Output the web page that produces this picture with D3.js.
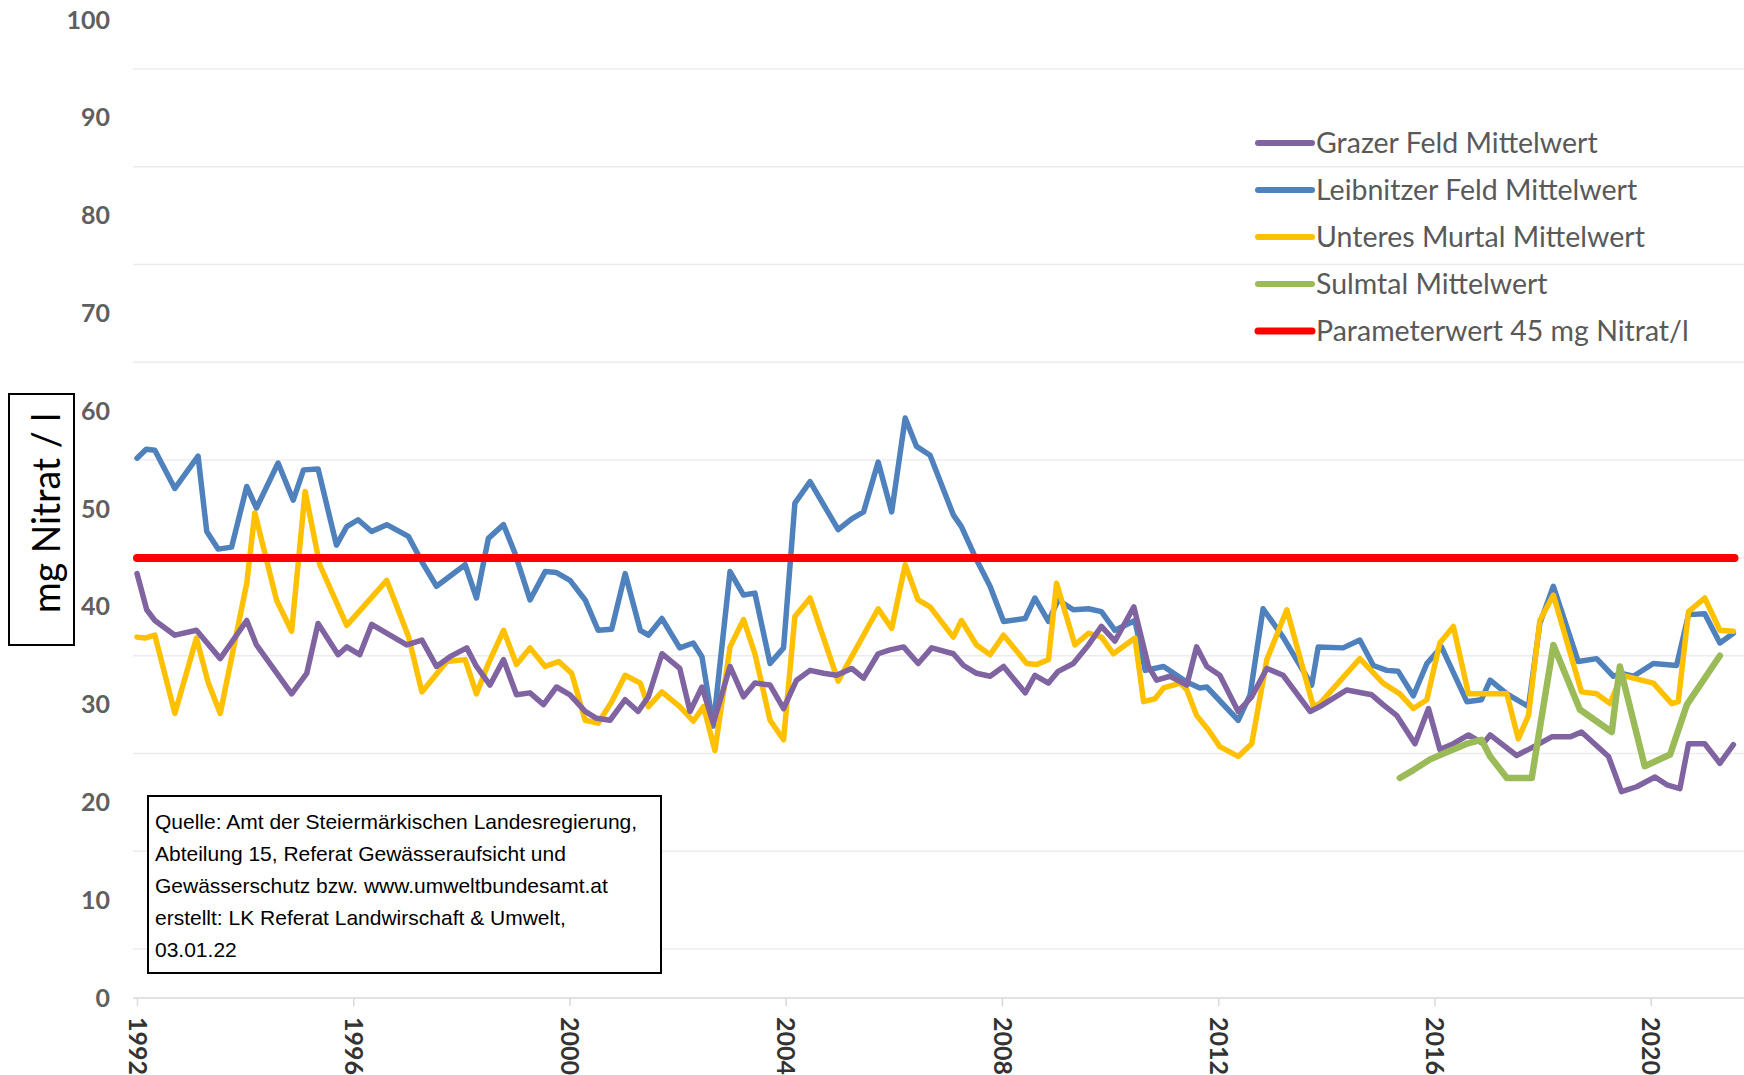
<!DOCTYPE html>
<html>
<head>
<meta charset="utf-8">
<script src="https://cdn.jsdelivr.net/npm/d3@7"></script>
<style>
  body { margin: 0; background: #fff; }
  svg { display: block; }
</style>
</head>
<body>
<div id="chart"></div>
<script>
// Nitrat-Mittelwerte, values (year, mg/l)
var grazerYears = [1992.00,1992.18,1992.33,1992.70,1993.10,1993.54,1994.03,1994.21,1994.86,1995.14,1995.35,1995.72,1995.88,1996.12,1996.34,1996.99,1997.27,1997.54,1997.79,1998.10,
  1998.28,1998.53,1998.78,1999.02,1999.27,1999.52,1999.76,2000.01,2000.29,2000.50,2000.75,2001.03,2001.27,2001.46,2001.71,2002.04,2002.23,2002.45,2002.66,2002.97,2003.22,2003.43,2003.71,2003.96,
  2004.20,2004.45,2004.70,2004.94,2005.22,2005.44,2005.71,2005.93,2006.18,2006.45,2006.70,2007.10,2007.29,2007.53,2007.78,2008.03,2008.43,2008.61,2008.86,2009.04,2009.32,2009.60,2009.84,2010.09,
  2010.44,2010.71,2010.86,2011.11,2011.42,2011.60,2011.79,2012.03,2012.37,2012.62,2012.90,2013.20,2013.70,2013.88,2014.38,2014.84,2015.05,2015.30,
  2015.64,2015.89,2016.10,2016.35,2016.63,2016.90,2017.03,2017.52,2017.77,2018.17,2018.51,2018.72,2019.22,2019.46,2019.74,2020.08,2020.30,2020.54,2020.70,2021.00,2021.28,2021.53];
var grazerValues = [43.4,39.7,38.6,37.1,37.6,34.7,38.6,36.1,31.1,33.2,38.3,35.1,35.9,35.1,38.2,36.1,36.6,33.9,34.9,35.8,
  33.9,32.0,34.6,31.0,31.2,30.0,31.8,31.0,29.3,28.6,28.4,30.5,29.3,30.8,35.2,33.7,29.3,31.8,28.1,33.9,30.8,32.2,32.0,29.6,
  32.5,33.5,33.2,33.0,33.7,32.7,35.2,35.6,35.9,34.2,35.8,35.2,34.0,33.2,32.9,33.9,31.2,33.0,32.2,33.4,34.2,36.1,38.0,36.5,
  40.0,33.9,32.5,32.9,32.0,35.9,33.9,33.0,29.3,30.8,33.7,33.0,29.3,29.8,31.5,31.0,30.0,28.9,
  26.0,29.6,25.4,26.0,26.9,26.0,26.9,24.8,25.5,26.7,26.7,27.2,24.7,21.1,21.6,22.6,21.8,21.4,26.0,26.0,24.0,25.9];

var leibnitzYears = [1992.00,1992.17,1992.33,1992.70,1993.13,1993.29,1993.50,1993.75,1994.03,1994.21,1994.61,1994.89,1995.08,1995.35,1995.69,1995.88,1996.09,1996.34,1996.62,1997.02,1997.27,1997.54,
  1998.07,1998.28,1998.50,1998.78,1998.99,1999.27,1999.55,1999.76,2000.01,2000.29,2000.53,2000.78,2001.03,2001.31,2001.46,2001.71,2002.04,2002.29,2002.45,2002.66,2002.97,2003.22,2003.43,2003.71,2003.96,
  2004.17,2004.45,2004.97,2005.22,2005.44,2005.71,2005.96,2006.21,2006.42,2006.67,2007.10,2007.25,2007.53,2007.78,2008.03,2008.43,2008.61,2008.86,2009.04,2009.32,2009.60,2009.84,2010.09,
  2010.46,2010.65,2010.99,2011.42,2011.66,2011.79,2012.37,2012.59,2012.83,2013.20,2013.73,2013.85,2014.31,2014.62,2014.87,2015.12,2015.33,2015.61,2015.86,2016.13,
  2016.60,2016.87,2017.03,2017.34,2017.74,2017.95,2018.20,2018.66,2019.00,2019.31,2019.46,2019.68,2020.05,2020.48,2020.70,2021.00,2021.28,2021.53];
var leibnitzValues = [55.2,56.1,56.0,52.1,55.4,47.7,45.9,46.1,52.3,50.1,54.7,50.9,54.0,54.1,46.3,48.2,48.9,47.7,48.4,47.2,44.6,42.1,
  44.3,40.9,47.0,48.4,45.5,40.7,43.6,43.5,42.7,40.7,37.6,37.7,43.4,37.6,37.1,38.8,35.8,36.3,34.9,27.8,43.6,41.2,41.4,34.2,35.8,
  50.6,52.8,47.9,49.0,49.7,54.8,49.7,59.3,56.4,55.5,49.4,48.2,44.8,42.1,38.5,38.8,40.9,38.5,40.7,39.7,39.8,39.5,37.6,
  38.6,33.5,33.9,32.3,31.7,31.8,28.4,31.0,39.8,36.9,32.0,35.9,35.8,36.6,34.0,33.5,33.4,30.9,34.2,35.9,
  30.3,30.5,32.5,31.1,29.8,38.3,42.1,34.4,34.7,32.9,33.2,32.9,34.2,34.0,39.2,39.3,36.3,37.3];

var murtalYears = [1992.00,1992.15,1992.33,1992.70,1993.10,1993.32,1993.54,1994.03,1994.18,1994.58,1994.86,1995.11,1995.38,1995.88,1996.62,1997.02,1997.27,1997.73,
  1998.07,1998.28,1998.50,1998.78,1999.02,1999.27,1999.55,1999.80,2000.04,2000.29,2000.53,2000.78,2001.03,2001.31,2001.46,2001.71,2002.04,2002.29,2002.48,2002.69,2002.97,2003.22,2003.43,2003.71,2003.96,
  2004.17,2004.45,2004.97,2005.71,2005.96,2006.21,2006.45,2006.67,2007.10,2007.25,2007.53,2007.78,2008.03,2008.46,2008.64,2008.86,2009.01,2009.35,2009.60,2009.84,2010.06,
  2010.46,2010.62,2010.83,2010.99,2011.30,2011.42,2011.60,2011.82,2012.03,2012.37,2012.62,2012.90,2013.27,2013.76,2013.88,2014.62,2015.05,2015.36,2015.61,2015.86,
  2016.10,2016.35,2016.63,2016.90,2017.34,2017.55,2017.74,2017.95,2018.20,2018.72,2019.00,2019.25,2019.46,2019.68,2020.05,2020.39,2020.51,2020.70,2021.00,2021.28,2021.53];
var murtalValues = [36.9,36.8,37.1,29.1,36.8,32.2,29.1,42.4,49.6,40.7,37.5,51.8,44.3,38.1,42.7,37.0,31.3,34.4,
  34.6,31.1,34.2,37.6,34.1,35.8,33.9,34.4,33.2,28.4,28.1,30.3,33.0,32.2,29.8,31.3,29.8,28.3,29.8,25.3,35.9,38.7,35.2,28.4,26.4,
  39.0,40.9,32.4,39.8,37.8,44.3,40.7,40.0,36.9,38.6,36.1,35.1,37.1,34.2,34.1,34.6,42.4,36.1,37.3,36.9,35.2,
  36.8,30.3,30.6,31.7,32.2,31.5,28.9,27.4,25.7,24.7,26.0,34.6,39.7,29.8,30.1,34.7,32.2,31.1,29.6,30.5,
  36.3,38.0,31.1,31.1,31.1,26.5,28.9,38.6,41.2,31.3,31.1,30.1,33.0,32.7,32.2,30.1,30.3,39.5,40.9,37.6,37.5];

var sulmtalYears = [2015.36,2015.61,2015.92,2016.17,2016.60,2016.87,2017.03,2017.34,2017.80,2018.20,2018.69,2019.28,2019.43,2019.89,2020.36,2020.67,2021.28];
var sulmtalValues = [22.5,23.3,24.4,25.0,26.0,26.4,24.7,22.5,22.5,36.1,29.5,27.2,33.9,23.7,24.9,30.0,35.0];

var parameterYears = [1992, 2021.55];
var parameterValues = [45, 45];

var yTicks = [0, 10, 20, 30, 40, 50, 60, 70, 80, 90, 100];
var gridValues = [5, 15, 25, 35, 45, 55, 65, 75, 85, 95];
var xTicks = [1992, 1996, 2000, 2004, 2008, 2012, 2016, 2020];

var seriesNames = ["Grazer Feld Mittelwert", "Leibnitzer Feld Mittelwert", "Unteres Murtal Mittelwert", "Sulmtal Mittelwert", "Parameterwert 45 mg Nitrat/l"];
var seriesColors = ["#8064a2", "#4f81bd", "#ffc000", "#9bbb59", "#ff0000"];

var sourceLines = [
  "Quelle: Amt der Steiermärkischen Landesregierung,",
  "Abteilung 15, Referat Gewässeraufsicht und",
  "Gewässerschutz bzw. www.umweltbundesamt.at",
  "erstellt: LK Referat Landwirschaft & Umwelt,",
  "03.01.22"
];

function zip(xs, ys) {
  return xs.map(function(x, i) { return {year: x, value: ys[i]}; });
}

var series = [
  {name: seriesNames[0], color: seriesColors[0], width: 5.5, data: zip(grazerYears, grazerValues)},
  {name: seriesNames[1], color: seriesColors[1], width: 5.5, data: zip(leibnitzYears, leibnitzValues)},
  {name: seriesNames[2], color: seriesColors[2], width: 5.5, data: zip(murtalYears, murtalValues)},
  {name: seriesNames[3], color: seriesColors[3], width: 6.5, data: zip(sulmtalYears, sulmtalValues)},
  {name: seriesNames[4], color: seriesColors[4], width: 8, data: zip(parameterYears, parameterValues)}
];

var width = 1744, height = 1075;

var svg = d3.select("#chart")
  .append("svg")
  .attr("width", width)
  .attr("height", height);

// scales
var x = d3.scaleLinear()
  .domain([1992, 2022])
  .range([137, 137 + 30 * 54.06]);

var y = d3.scaleLinear()
  .domain([0, 100])
  .range([998, 20]);

// faint gridlines (sit between the labels in the original)
svg.append("g")
  .selectAll("line")
  .data(gridValues)
  .enter().append("line")
    .attr("x1", 133)
    .attr("x2", width)
    .attr("y1", function(d) { return y(d); })
    .attr("y2", function(d) { return y(d); })
    .attr("stroke", "#ececec")
    .attr("stroke-width", 1.5);

// y axis labels
var yAxis = svg.append("g")
  .attr("transform", "translate(110,0)")
  .call(d3.axisLeft(y).tickValues(yTicks).tickSize(0).tickPadding(0));
yAxis.select(".domain").remove();
yAxis.selectAll("text")
  .attr("font-family", "Lato, sans-serif")
  .attr("font-weight", "bold")
  .attr("font-size", 25)
  .attr("fill", "#5f5f5f");

// x axis
var xAxis = svg.append("g")
  .attr("transform", "translate(0,998)")
  .call(d3.axisBottom(x).tickValues(xTicks).tickSize(8).tickFormat(d3.format("d")));
xAxis.select(".domain")
  .attr("d", "M133,0H" + width)
  .attr("stroke", "#d9d9d9")
  .attr("stroke-width", 1.5);
xAxis.selectAll(".tick line")
  .attr("stroke", "#d9d9d9")
  .attr("stroke-width", 1.5);
xAxis.selectAll("text")
  .attr("font-family", "Lato, sans-serif")
  .attr("font-weight", "bold")
  .attr("font-size", 25)
  .attr("fill", "#333")
  .attr("text-anchor", "start")
  .attr("dy", "0.35em")
  .attr("y", 0)
  .attr("transform", "translate(0,19) rotate(90)");

// lines
var line = d3.line()
  .x(function(d) { return x(d.year); })
  .y(function(d) { return y(d.value); });

svg.append("g")
  .selectAll("path")
  .data([series[1], series[2], series[0], series[3], series[4]])
  .enter().append("path")
    .attr("fill", "none")
    .attr("stroke", function(d) { return d.color; })
    .attr("stroke-width", function(d) { return d.width; })
    .attr("stroke-linejoin", "round")
    .attr("stroke-linecap", "round")
    .attr("d", function(d) { return line(d.data); });

// y axis title in a box
svg.append("rect")
  .attr("x", 9)
  .attr("y", 394)
  .attr("width", 65)
  .attr("height", 251)
  .attr("fill", "#fff")
  .attr("stroke", "#000")
  .attr("stroke-width", 2);
svg.append("text")
  .attr("transform", "translate(60,513) rotate(-90)")
  .attr("text-anchor", "middle")
  .attr("font-family", "Lato, sans-serif")
  .attr("font-size", 38)
  .attr("textLength", 200)
  .attr("lengthAdjust", "spacingAndGlyphs")
  .attr("fill", "#000")
  .text("mg Nitrat / l");

// legend
var legend = svg.append("g")
  .selectAll("g.item")
  .data(series)
  .enter().append("g")
    .attr("class", "item")
    .attr("transform", function(d, i) { return "translate(1258," + (143 + i * 47) + ")"; });
legend.append("line")
  .attr("x1", 0)
  .attr("x2", 54)
  .attr("stroke", function(d) { return d.color; })
  .attr("stroke-width", function(d, i) { return i == 4 ? 7 : 6; })
  .attr("stroke-linecap", "round");
legend.append("text")
  .attr("x", 58)
  .attr("dy", "0.35em")
  .attr("font-family", "Lato, sans-serif")
  .attr("font-size", 28.5)
  .attr("fill", "#595959")
  .text(function(d) { return d.name; });

// source box
svg.append("rect")
  .attr("x", 148)
  .attr("y", 796)
  .attr("width", 513)
  .attr("height", 177)
  .attr("fill", "#fff")
  .attr("stroke", "#000")
  .attr("stroke-width", 2);
svg.append("g")
  .selectAll("text")
  .data(sourceLines)
  .enter().append("text")
    .attr("x", 155)
    .attr("y", function(d, i) { return 822 + i * 32; })
    .attr("dy", "0.35em")
    .style("font-family", "'Liberation Sans', Arial, sans-serif")
    .attr("font-size", 21)
    .attr("fill", "#000")
    .text(function(d) { return d; });
</script>
</body>
</html>
